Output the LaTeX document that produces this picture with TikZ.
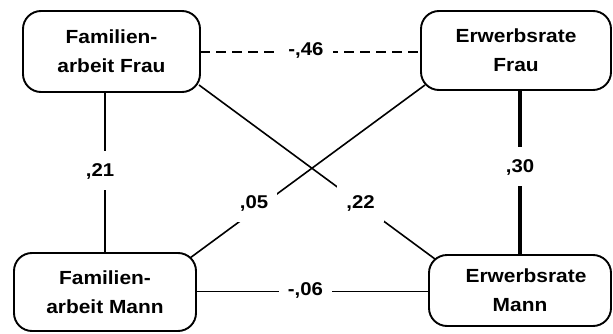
\documentclass[tikz,border=0pt]{standalone}
\usepackage{fontspec}
\setmainfont{Liberation Sans}[FakeStretch=1.1]
\begin{document}
\begin{tikzpicture}[x=1pt,y=1pt,
  varbox/.style={draw=black, line width=1.9pt, rounded corners=18pt, fill=white,
    inner sep=0pt, outer sep=0pt, align=center,
    font=\fontsize{19}{29}\selectfont\bfseries},
  coef/.style={fill=white, text height=13pt, text depth=0pt,
    inner xsep=9pt, inner ysep=13pt,
    font=\fontsize{18.5}{22}\selectfont\bfseries},
  thinline/.style={line width=1.6pt},
  thickline/.style={line width=4.5pt},
  dashline/.style={line width=2pt, dash pattern=on 10pt off 6pt}]
\useasboundingbox (0,0) rectangle (613,333);
% boxes
\node[varbox, minimum width=177pt, minimum height=81pt] (FF) at (111.5,281.5) {Familien-\\arbeit Frau};
\node[varbox, minimum width=190pt, minimum height=79pt] (EF) at (516,282.5) {Erwerbsrate\\Frau};
\node[varbox, minimum width=182pt, minimum height=78pt] (FM) at (105,41) {Familien-\\arbeit Mann};
\node[varbox, minimum width=182pt, minimum height=71pt] (EM) at (520,42.5) {\hspace*{12pt}Erwerbsrate\\Mann};
% connectors
\draw[dashline] (FF.east) -- (FF.east -| EF.west);
\draw[thinline] (FM.north |- FF.south) -- (FM.north);
\draw[thickline] (EF.south -| 520,0) -- (EM.north -| 520,0);
\draw[thinline] (FM.east |- 0,41.5) -- (EM.west |- 0,41.5);
\draw[thinline] ([shift={(-1pt,7pt)}]FF.south east) -- ([shift={(6pt,-4pt)}]EM.north west);
\draw[thinline] ([shift={(4pt,5pt)}]EF.south west) -- ([shift={(-6pt,-5pt)}]FM.north east);
% coefficients
\node[coef] (c46) at (306,284.2) {-,46};
\node[coef] (c21) at (100,163) {,21};
\node[coef] (c30) at (520,167) {,30};
\node[coef] (c06) at (305.5,44) {-,06};
\node[coef] (c05) at (254,131) {,05};
\node[coef] (c22) at (360.5,131) {,22};
\end{tikzpicture}
\end{document}
